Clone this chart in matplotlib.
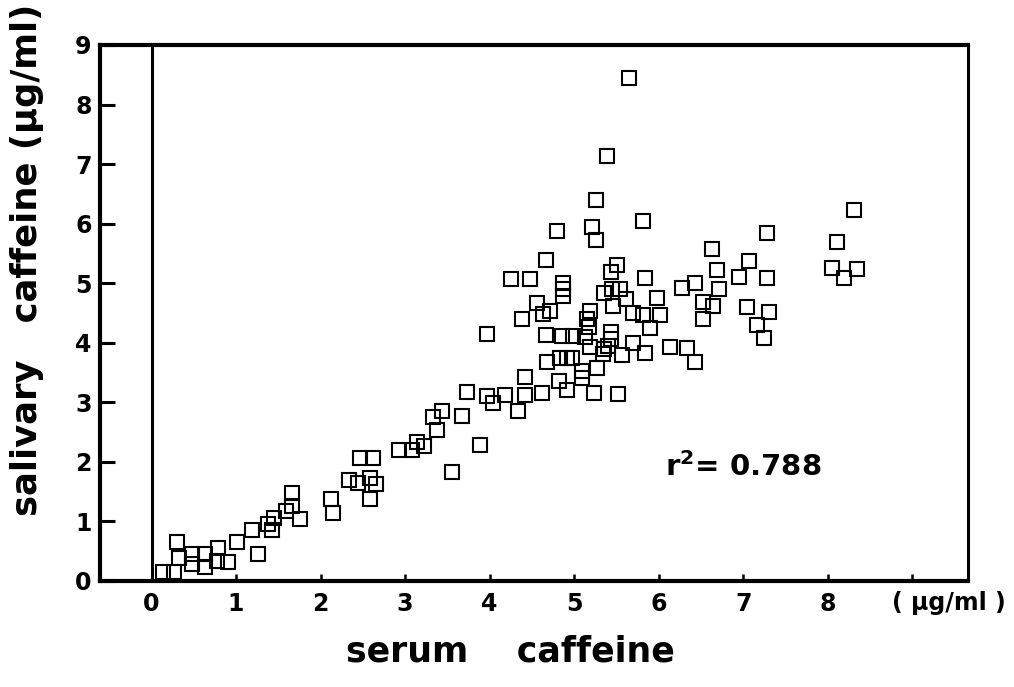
import matplotlib.pyplot as plt

# serum caffeine (ug/ml) vs salivary caffeine (ug/ml)
serum = [0.13, 0.27, 0.30, 0.33, 0.48, 0.48, 0.63, 0.63, 0.79, 0.78,
         0.91, 1.01, 1.19, 1.26, 1.38, 1.43, 1.45, 1.59, 1.66, 1.66,
         1.76, 2.12, 2.15, 2.34, 2.44, 2.58, 2.66, 2.59, 2.47, 2.62,
         2.93, 3.08, 3.14, 3.22, 3.33, 3.44, 3.38, 3.56, 3.67, 3.73,
         3.89, 3.97, 3.97, 4.04, 4.18, 4.34, 4.42, 4.42, 4.38, 4.25,
         4.48, 4.56, 4.63, 4.72, 4.62, 4.67, 4.67, 4.68, 4.80, 4.83,
         4.82, 4.86, 4.87, 4.87, 4.87, 4.91, 4.98, 4.91, 4.99, 5.09,
         5.09, 5.13, 5.15, 5.18, 5.19, 5.19, 5.21, 5.23, 5.26, 5.26,
         5.27, 5.34, 5.35, 5.35, 5.39, 5.40, 5.44, 5.44, 5.44, 5.45,
         5.46, 5.51, 5.52, 5.54, 5.57, 5.61, 5.65, 5.70, 5.70, 5.82,
         5.82, 5.84, 5.84, 5.90, 5.98, 6.02, 6.14, 6.28, 6.34, 6.43,
         6.43, 6.52, 6.53, 6.63, 6.64, 6.69, 6.72, 6.95, 7.05, 7.07,
         7.16, 7.25, 7.28, 7.28, 7.30, 8.05, 8.11, 8.19, 8.31, 8.35]
saliva = [0.15, 0.15, 0.66, 0.39, 0.45, 0.29, 0.45, 0.24, 0.55, 0.34,
          0.32, 0.66, 0.86, 0.45, 0.96, 0.86, 1.06, 1.18, 1.48, 1.26,
          1.04, 1.38, 1.14, 1.70, 1.65, 1.73, 1.63, 1.37, 2.07, 2.07,
          2.20, 2.20, 2.34, 2.27, 2.76, 2.86, 2.54, 1.83, 2.77, 3.18,
          2.29, 4.15, 3.11, 2.99, 3.12, 2.86, 3.43, 3.12, 4.40, 5.07,
          5.07, 4.66, 4.49, 4.54, 3.16, 5.39, 4.13, 3.68, 5.88, 3.75,
          3.36, 4.12, 5.01, 4.91, 4.79, 3.75, 3.75, 3.21, 4.12, 3.53,
          3.41, 4.10, 4.40, 4.27, 4.54, 3.93, 5.95, 3.16, 6.40, 5.73,
          3.58, 3.81, 4.84, 3.90, 7.14, 3.95, 5.19, 4.18, 4.07, 4.90,
          4.62, 5.31, 3.14, 4.90, 3.80, 4.74, 8.44, 4.50, 4.00, 6.05,
          4.47, 5.09, 3.83, 4.24, 4.76, 4.47, 3.93, 4.92, 3.92, 5.01,
          3.68, 4.69, 4.40, 5.58, 4.62, 5.23, 4.91, 5.11, 4.60, 5.38,
          4.30, 4.08, 5.85, 5.09, 4.52, 5.26, 5.70, 5.09, 6.23, 5.24]

x_ticks = [0, 1, 2, 3, 4, 5, 6, 7, 8, 9]
x_labels = ['0', '1', '2', '3', '4', '5', '6', '7', '8', '']
y_ticks = [0, 1, 2, 3, 4, 5, 6, 7, 8, 9]

fig = plt.figure(figsize=(10.14, 6.87), dpi=100)
ax = fig.add_axes([0.0986, 0.1543, 0.856, 0.7802])

ax.plot(serum, saliva, 's', ms=9.5, mfc='none', mec='black', mew=1.5)
ax.axvline(0, color='black', lw=2.2)

ax.set_xlim(-0.61, 9.66)
ax.set_ylim(0, 9)

for side in ['left', 'bottom', 'top']:
    ax.spines[side].set_linewidth(3)
ax.spines['right'].set_linewidth(2.2)

ax.set_xticks(x_ticks)
ax.set_xticklabels(x_labels)
ax.set_yticks(y_ticks)
ax.tick_params(axis='y', direction='in', length=11, width=2.2, pad=6, labelsize=17)
ax.tick_params(axis='x', direction='in', length=5, width=1.8, pad=8, labelsize=17)
for lab in ax.get_xticklabels() + ax.get_yticklabels():
    lab.set_fontweight('bold')

# unit label sits where the "9" tick label would be
ax.text(9.43, -0.17, '( \u00b5g/ml )', ha='center', va='top', fontsize=17,
        fontweight='bold', clip_on=False)

ax.text(6.08, 1.76, r'$\mathbf{r^2}$= 0.788', ha='left', va='baseline',
        fontsize=21, fontweight='bold')

fig.text(0.503, 0.051, 'serum    caffeine', ha='center', va='center',
         fontsize=25, fontweight='bold')
fig.text(0.027, 0.622, 'salivary   caffeine (\u00b5g/ml)', ha='center', va='center',
         rotation=90, fontsize=25.5, fontweight='bold')

fig.savefig('out.png', dpi=100)
